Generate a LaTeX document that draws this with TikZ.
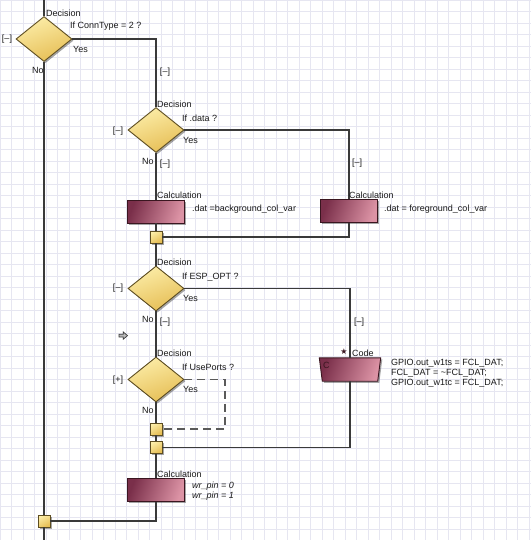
\documentclass[tikz,border=0pt]{standalone}
\usepackage{fontspec}
\setmainfont{Liberation Sans}
\newfontfamily\symfont{DejaVu Sans}
\usetikzlibrary{shapes.geometric,shadows}
\definecolor{gridc}{HTML}{E6E6F1}
\definecolor{linec}{HTML}{3A3A3A}
\definecolor{dashc}{HTML}{5A5A5A}
\definecolor{yelL}{HTML}{FCEDA8}
\definecolor{yelD}{HTML}{E6BE55}
\definecolor{yelB}{HTML}{5E4E22}
\definecolor{marD}{HTML}{7A2F4A}
\definecolor{marL}{HTML}{DC93A5}
\definecolor{marB}{HTML}{3A1620}
\definecolor{txtc}{HTML}{1A1A1A}
\tikzset{
  flow/.style={draw=linec, line width=1.3pt},
  dflow/.style={draw=dashc, line width=1.4pt, dash pattern=on 8pt off 5pt},
  shad/.style={drop shadow={shadow xshift=1.6pt, shadow yshift=-1.6pt, opacity=0.35, fill=black}},
  dec/.style={diamond, minimum width=56pt, minimum height=45pt, inner sep=0pt,
    draw=yelB, line width=0.9pt, top color=yelL, bottom color=yelD, shading angle=20, shad},
  calc/.style={rectangle, minimum width=57pt, minimum height=23pt, inner sep=0pt,
    draw=marB, line width=0.9pt, left color=marD, right color=marL, shading angle=70, shad},
  codeframe/.style={rectangle, minimum width=61pt, minimum height=23pt, inner sep=0pt},
  codefill/.style={draw=marB, line width=0.9pt, left color=marD, right color=marL, shading angle=70, shad},
  junc/.style={rectangle, minimum width=12pt, minimum height=12pt, inner sep=0pt,
    draw=yelB, line width=0.9pt, top color=yelL, bottom color=yelD, shading angle=30, shad},
  lbl/.style={anchor=west, inner sep=0pt, font=\fontsize{9}{10}\selectfont, text=txtc},
  lblc/.style={anchor=center, inner sep=0pt, font=\fontsize{9}{10}\selectfont, text=txtc},
}
\begin{document}
\begin{tikzpicture}[x=1pt,y=-1pt]
\useasboundingbox (0,0) rectangle (531,540);
\fill[white] (0,0) rectangle (531,540);
\foreach \g in {0,11.5,...,531} {\draw[gridc, line width=0.8pt] (\g,0) -- (\g,540);}
\foreach \g in {0,11.5,...,540} {\draw[gridc, line width=0.8pt] (0,\g) -- (531,\g);}

% nodes
\node[dec] (d1) at (44,39) {};
\node[dec] (d2) at (156,130) {};
\node[calc] (c1) at (156,211.5) {};
\node[calc] (c2) at (349,211) {};
\node[junc] (j1) at (156,237) {};
\node[dec] (d3) at (156,288.5) {};
\node[codeframe] (code) at (350,369.5) {};
\path[codefill] (code.north west) -- (code.north east) -- ([xshift=-3pt]code.south east) -- ([xshift=3pt]code.south west) -- cycle;
\node[dec] (d4) at (156,379.5) {};
\node[junc] (j2) at (156,429) {};
\node[junc] (j3) at (156,447.5) {};
\node[calc] (c3) at (156,490) {};
\node[junc] (j4) at (44,521) {};
\coordinate (top) at (44,0);
\coordinate (bot) at (44,540);
\coordinate (dcorner) at (225,429);

% connectors
\draw[flow] (top) -- (d1.north);
\draw[flow] (d1.south) -- (j4.north);
\draw[flow] (j4.south) -- (bot);
\draw[flow] (d1.east) -| (d2.north);
\draw[flow] (d2.east) -| (c2.north);
\draw[flow] (d2.south) -- (c1.north);
\draw[flow] (c1.south) -- (j1.north);
\draw[flow] (c2.south) |- (j1.east);
\draw[flow] (j1.south) -- (d3.north);
\draw[flow] (d3.east) -| (code.north);
\draw[flow] (d3.south) -- (d4.north);
\draw[flow] (d4.south) -- (j2.north);
\draw[dflow] (d4.east) -| (dcorner) -- (j2.east);
\draw[flow] (j2.south) -- (j3.north);
\draw[flow] (code.south) |- (j3.east);
\draw[flow] (j3.south) -- (c3.north);
\draw[flow] (c3.south) |- (j4.east);

% labels decision 1
\node[lbl] (d1t) at (46,13) {Decision};
\node[lbl] (d1q) at (70,26) {If ConnType = 2 ?};
\node[lbl] (d1y) at (73,49) {Yes};
\node[lbl] (d1n) at (32,70) {No};
\node[lblc] (d1m) at (7,39) {[–]};
\node[lblc] (d1m2) at (165,72) {[–]};
% decision 2
\node[lbl] (d2t) at (157,104) {Decision};
\node[lbl] (d2q) at (182,118) {If .data ?};
\node[lbl] (d2y) at (183,140) {Yes};
\node[lbl] (d2n) at (142,161) {No};
\node[lblc] (d2m) at (118,131) {[–]};
\node[lblc] (d2m2) at (165,164) {[–]};
\node[lblc] (d2m3) at (357,163) {[–]};
% calc 1 and 2
\node[lbl] (c1t) at (157,195) {Calculation};
\node[lbl] (c1x) at (192,209) {.dat =background\_col\_var};
\node[lbl] (c2t) at (349,195) {Calculation};
\node[lbl] (c2x) at (384,209) {.dat = foreground\_col\_var};
% decision 3
\node[lbl] (d3t) at (157,262) {Decision};
\node[lbl] (d3q) at (182,277) {If ESP\_OPT ?};
\node[lbl] (d3y) at (183,298) {Yes};
\node[lbl] (d3n) at (142,319) {No};
\node[lblc] (d3m) at (118,288) {[–]};
\node[lblc] (d3m2) at (165,322) {[–]};
\node[lblc] (d3m3) at (359,322) {[–]};
% small arrow icon
\filldraw[draw=linec, fill=gray!55, line width=0.7pt, line join=miter]
  (119,334.3) -- (123.3,334.3) -- (123.3,332) -- (127.5,335.6) -- (123.3,339.2) -- (123.3,337) -- (119,337) -- cycle;
% code
\node[lblc, font=\symfont\fontsize{8}{8}\selectfont, text=marB] (star) at (344,351.5) {★};
\node[lbl] (codet) at (352,353) {Code};
\node[lbl, text=marB] (codec) at (323,365) {C};
\node[lbl, align=left, anchor=north west] (codex) at (391,359.5) {GPIO.out\_w1ts = FCL\_DAT;\\FCL\_DAT = \~{}FCL\_DAT;\\GPIO.out\_w1tc = FCL\_DAT;};
% decision 4
\node[lbl] (d4t) at (157,353) {Decision};
\node[lbl] (d4q) at (182,367) {If UsePorts ?};
\node[lbl] (d4y) at (183,389) {Yes};
\node[lbl] (d4n) at (142,410) {No};
\node[lblc] (d4p) at (118,380) {[+]};
% calc 3
\node[lbl] (c3t) at (157,474) {Calculation};
\node[lbl, font=\itshape\fontsize{9}{10}\selectfont] (c3x) at (192,486) {wr\_pin = 0};
\node[lbl, font=\itshape\fontsize{9}{10}\selectfont] (c3y) at (192,496) {wr\_pin = 1};
\end{tikzpicture}
\end{document}
